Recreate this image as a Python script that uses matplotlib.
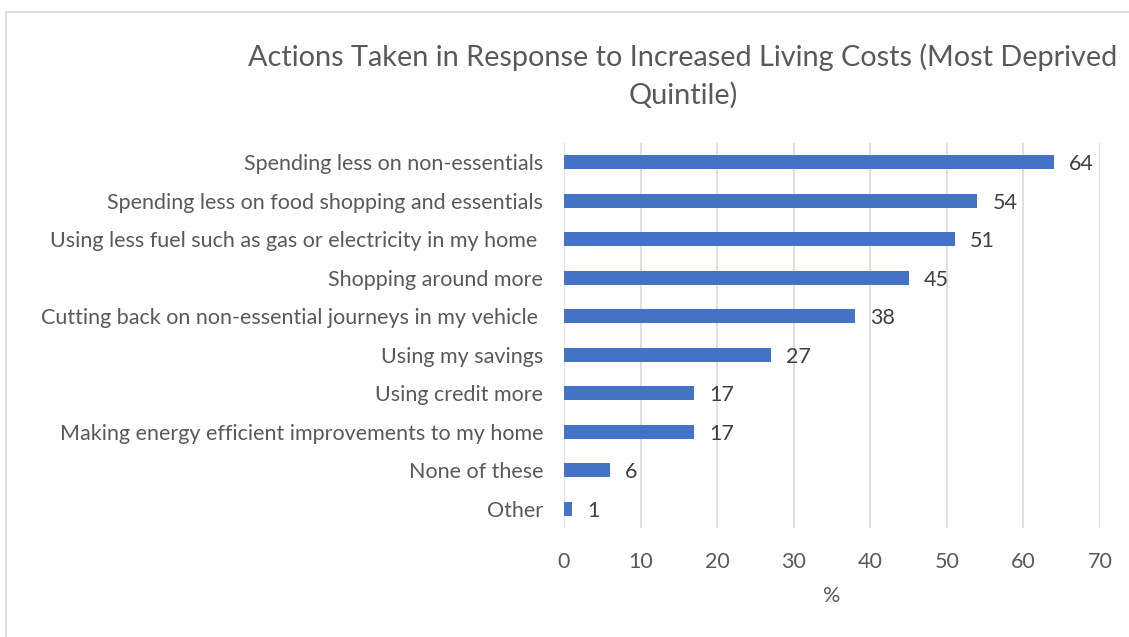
import matplotlib
matplotlib.use("Agg")
import matplotlib.pyplot as plt
from matplotlib.patches import Rectangle

categories = [
    "Spending less on non-essentials",
    "Spending less on food shopping and essentials",
    "Using less fuel such as gas or electricity in my home ",
    "Shopping around more",
    "Cutting back on non-essential journeys in my vehicle ",
    "Using my savings",
    "Using credit more",
    "Making energy efficient improvements to my home",
    "None of these",
    "Other",
]
values = [64, 54, 51, 45, 38, 27, 17, 17, 6, 1]
xticks = [0, 10, 20, 30, 40, 50, 60, 70]

plt.rcParams["font.family"] = ["Lato", "DejaVu Sans"]

W, H = 1129, 637
fig = plt.figure(figsize=(W / 100, H / 100), dpi=100)
fig.patch.set_facecolor("white")

# chart frame
fig.add_artist(Rectangle((6 / W, -0.05), 1.1, 1 - 12 / H + 0.05,
                         transform=fig.transFigure, fill=False,
                         edgecolor="#d9d9d9", linewidth=1.2))

left, right = 564 / W, 1100 / W
top, bottom = 1 - 143 / H, 1 - 528 / H
ax = fig.add_axes([left, bottom, right - left, top - bottom])

pos = list(range(len(categories)))
ax.barh(pos, values, height=0.36, color="#4472C4")
ax.set_ylim(len(categories) - 0.5, -0.5)
ax.set_xlim(0, 70)
ax.set_xticks(xticks)
ax.set_xticklabels([str(t) for t in xticks])
ax.set_yticks(pos)
ax.set_yticklabels(categories)

for p, v in zip(pos, values):
    ax.text(v + 2.0, p + 0.05, str(v), va="center", ha="left",
            fontsize=15.5, color="#404040")

ax.grid(axis="x", color="#d9d9d9", linewidth=1.2)
ax.set_axisbelow(True)
for s in ax.spines.values():
    s.set_visible(False)
ax.tick_params(axis="both", length=0, labelsize=15.5, colors="#595959")
ax.tick_params(axis="y", pad=15)
ax.tick_params(axis="x", pad=17)
ax.set_xlabel("%", fontsize=15.5, color="#595959", labelpad=10)

fig.text(683 / W, 1 - 76 / H,
         "Actions Taken in Response to Increased Living Costs (Most Deprived\nQuintile)",
         ha="center", va="center", fontsize=20.8, color="#595959", linespacing=1.5)

fig.savefig("out.png", dpi=100)
